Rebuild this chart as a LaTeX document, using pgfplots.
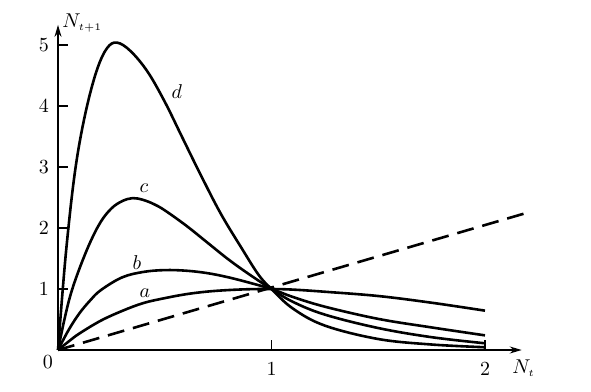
\documentclass[border=0pt]{standalone}
\usepackage{pgfplots}
\pgfplotsset{compat=1.18}
\usetikzlibrary{arrows.meta}
\begin{document}
\begin{tikzpicture}
\begin{axis}[
  x=106.75pt, y=30.5pt,
  xmin=0, xmax=2.172, ymin=0, ymax=5.33,
  axis lines=left,
  axis line style={line width=0.8pt, -{Stealth[length=6pt,width=3.5pt]}},
  enlargelimits=false,
  clip=false,
  xtick={1,2}, ytick={1,2,3,4,5},
  tick align=inside,
  major tick length=5pt,
  tick style={line width=0.8pt, black},
  xticklabel style={yshift=-3pt},
  yticklabel style={xshift=-1pt},
]
% curve a
\addplot[black, line width=1.3pt, smooth, tension=0.6] coordinates {
(0,0) (0.05,0.14) (0.1,0.27) (0.2,0.48) (0.3,0.64) (0.4,0.77) (0.5,0.85)
(0.6,0.915) (0.7,0.958) (0.8,0.983) (0.9,0.997) (1.0,1.0) (1.1,0.99)
(1.25,0.955) (1.5,0.885) (1.75,0.775) (2.0,0.645)};
% curve b
\addplot[black, line width=1.3pt, smooth, tension=0.6] coordinates {
(0,0) (0.05,0.33) (0.1,0.60) (0.15,0.81) (0.2,0.98) (0.3,1.19) (0.4,1.28)
(0.5,1.31) (0.6,1.30) (0.7,1.26) (0.8,1.19) (0.9,1.10) (1.0,1.0) (1.1,0.87)
(1.25,0.71) (1.5,0.51) (1.75,0.37) (2.0,0.24)};
% curve c
\addplot[black, line width=1.3pt, smooth, tension=0.6] coordinates {
(0,0) (0.03,0.5) (0.06,0.92) (0.1,1.33) (0.15,1.76) (0.2,2.10) (0.25,2.32)
(0.3,2.44) (0.35,2.49) (0.4,2.46) (0.45,2.39) (0.5,2.29) (0.6,2.04)
(0.7,1.76) (0.8,1.48) (0.9,1.23) (1.0,1.0) (1.1,0.79) (1.25,0.58)
(1.5,0.36) (1.75,0.21) (2.0,0.11)};
% curve d
\addplot[black, line width=1.3pt, smooth, tension=0.6] coordinates {
(0,0) (0.02,0.90) (0.04,1.70) (0.07,2.67) (0.1,3.38)
(0.14,4.06) (0.185,4.62) (0.23,4.95) (0.276,5.04) (0.34,4.90)
(0.42,4.56) (0.5,4.07) (0.58,3.50) (0.66,2.93) (0.76,2.25)
(0.86,1.67) (0.94,1.23) (1.0,1.0) (1.1,0.68) (1.25,0.40) (1.5,0.18)
(1.75,0.09) (2.0,0.045)};
% dashed line
\addplot[black, line width=1.3pt, dash pattern=on 8.5pt off 4.5pt] coordinates {(0,0) (2.187,2.24)};
% labels
\node at (axis cs:0.557,4.23) {$d$};
\node at (axis cs:0.403,2.66) {$c$};
\node at (axis cs:0.37,1.43) {$b$};
\node at (axis cs:0.407,0.934) {$a$};
\node at (axis cs:-0.047,-0.197) {0};
\node[anchor=base west, inner sep=0pt] at (axis cs:0.019,5.28) {$N_{\scriptscriptstyle t+1}$};
\node[anchor=base west, inner sep=0pt] at (axis cs:2.126,-0.393) {$N_{\scriptscriptstyle t}$};
\path (axis cs:-0.2717,-0.6885) rectangle (axis cs:2.4965,5.738);
\end{axis}
\end{tikzpicture}
\end{document}
